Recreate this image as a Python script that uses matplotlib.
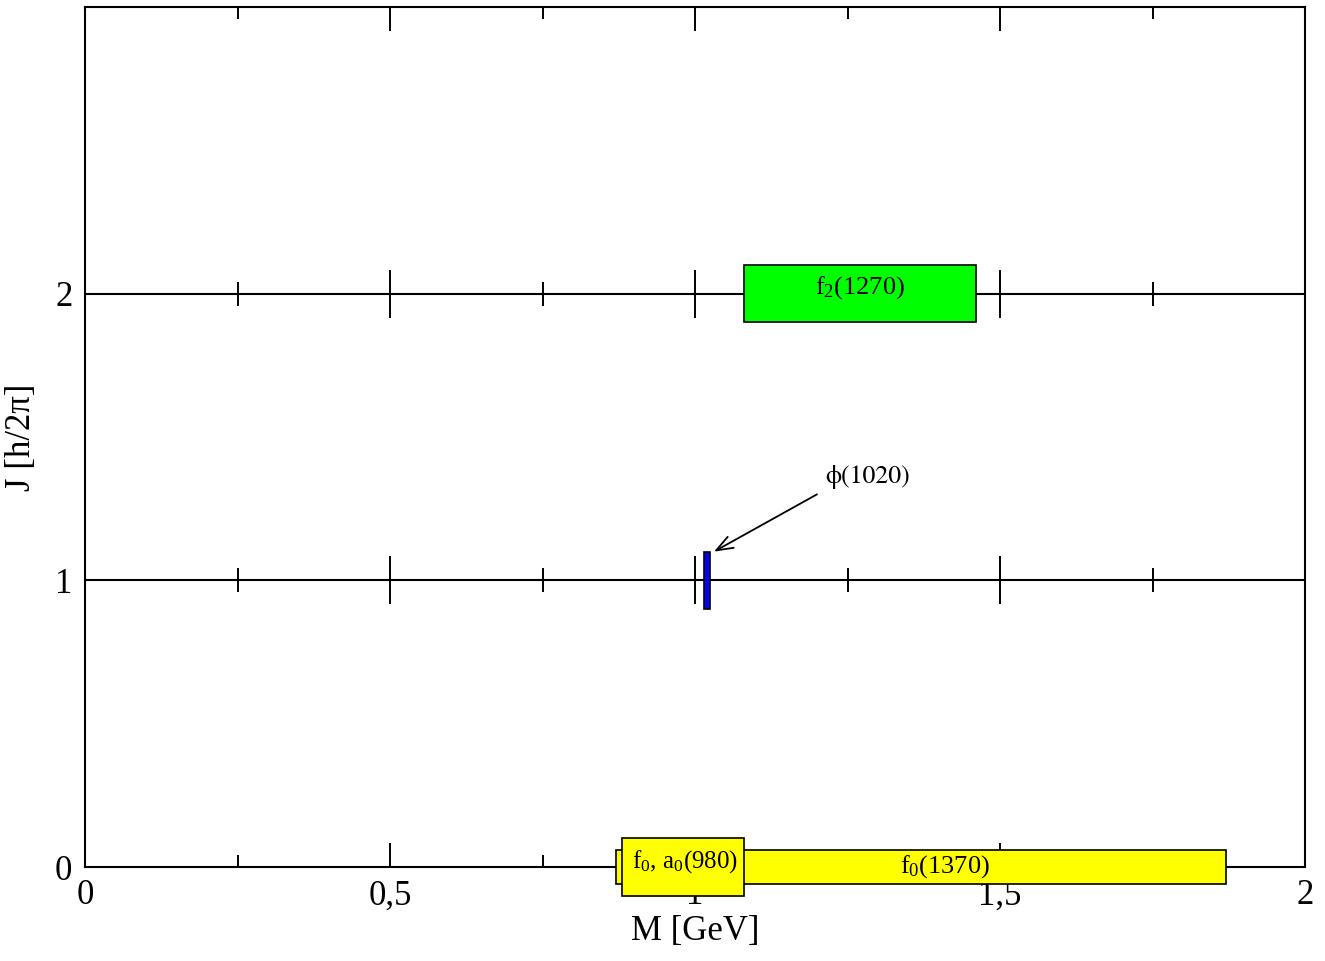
import matplotlib
matplotlib.use("Agg")
import matplotlib.pyplot as plt
import numpy as np

# ---- data ----
names = ["f$_0$(1370)", "f$_0$, a$_0$(980)", "ϕ(1020)", "f$_2$(1270)"]
mass_lo = [0.87, 0.88, 1.015, 1.08]
mass_hi = [1.87, 1.08, 1.025, 1.46]
spin = [0, 0, 1, 2]
half_h = [0.06, 0.10, 0.10, 0.10]
colors = ["#ffff00", "#ffff00", "#0000ff", "#00ff00"]
label_x = [1.41, 0.983, None, 1.27]
label_y = [0.0, 0.02, None, 2.02]
label_size = [19, 18, None, 19]
phi_label_pos = (1.213, 1.36)
phi_arrow_tail = (1.20, 1.30)
phi_arrow_head = (1.031, 1.10)

xticks = [0, 0.5, 1, 1.5, 2]
xticklabels = ["0", "0,5", "1", "1,5", "2"]
xminor = [0.25, 0.75, 1.25, 1.75]
yticks = [0, 1, 2]
yticklabels = ["0", "1", "2"]
spin_lines = [1, 2]

plt.rcParams['font.family'] = ['Liberation Serif', 'DejaVu Serif']
plt.rcParams['mathtext.fontset'] = 'custom'
plt.rcParams['mathtext.rm'] = 'Liberation Serif'
plt.rcParams['mathtext.it'] = 'Liberation Serif:italic'
plt.rcParams['mathtext.bf'] = 'Liberation Serif:bold'
plt.rcParams['mathtext.default'] = 'rm'

fig = plt.figure(figsize=(13.25, 9.61), dpi=100)
ax = fig.add_axes([85/1325, 1-867/961, (1305-85)/1325, (867-7)/961])
ax.set_xlim(0, 2)
ax.set_ylim(0, 3)
for s in ax.spines.values():
    s.set_linewidth(1.5)

ax.set_xticks(xticks)
ax.set_xticklabels(xticklabels)
ax.set_xticks(xminor, minor=True)
ax.set_yticks(yticks)
ax.set_yticklabels(yticklabels)
ax.tick_params(axis='x', which='major', direction='in', length=17.3, width=1.4,
               top=True, bottom=True, labelsize=25, pad=9)
ax.tick_params(axis='x', which='minor', direction='in', length=8.6, width=1.4,
               top=True, bottom=True)
ax.tick_params(axis='y', which='both', length=0, labelsize=25, pad=9)

# horizontal spin lines with crossing ticks
for J in spin_lines:
    ax.plot([0, 2], [J, J], color='black', lw=1.5, zorder=2)
    ax.plot(xticks, [J]*len(xticks), ls='none', marker='|', ms=34.6,
            mew=1.4, color='black', zorder=2)
    ax.plot(xminor, [J]*len(xminor), ls='none', marker='|', ms=17.3,
            mew=1.4, color='black', zorder=2)

# resonance boxes
for lo, hi, J, h, c in zip(mass_lo, mass_hi, spin, half_h, colors):
    ax.bar(x=lo, height=2*h, width=hi - lo, bottom=J - h, align='edge', color=c,
           edgecolor='black', linewidth=1.2, zorder=3, clip_on=False)

for name, lx, ly, fs in zip(names, label_x, label_y, label_size):
    if lx is None:
        continue
    ax.text(lx, ly, name, ha='center', va='center', fontsize=fs, zorder=4,
            clip_on=False)

ax.text(phi_label_pos[0], phi_label_pos[1], names[2], ha='left', va='center',
        fontsize=18.5, family=['STIXGeneral', 'DejaVu Serif'])
ax.annotate('', xy=phi_arrow_head, xytext=phi_arrow_tail,
            arrowprops=dict(arrowstyle='->,head_length=1.2,head_width=0.45',
                            lw=1.3, color='black', shrinkA=0, shrinkB=0))

ax.set_xlabel("M [GeV]", fontsize=25, labelpad=2)
ax.set_ylabel("J [h/2π]", fontsize=25, labelpad=12)

fig.savefig("out.png", dpi=100)
